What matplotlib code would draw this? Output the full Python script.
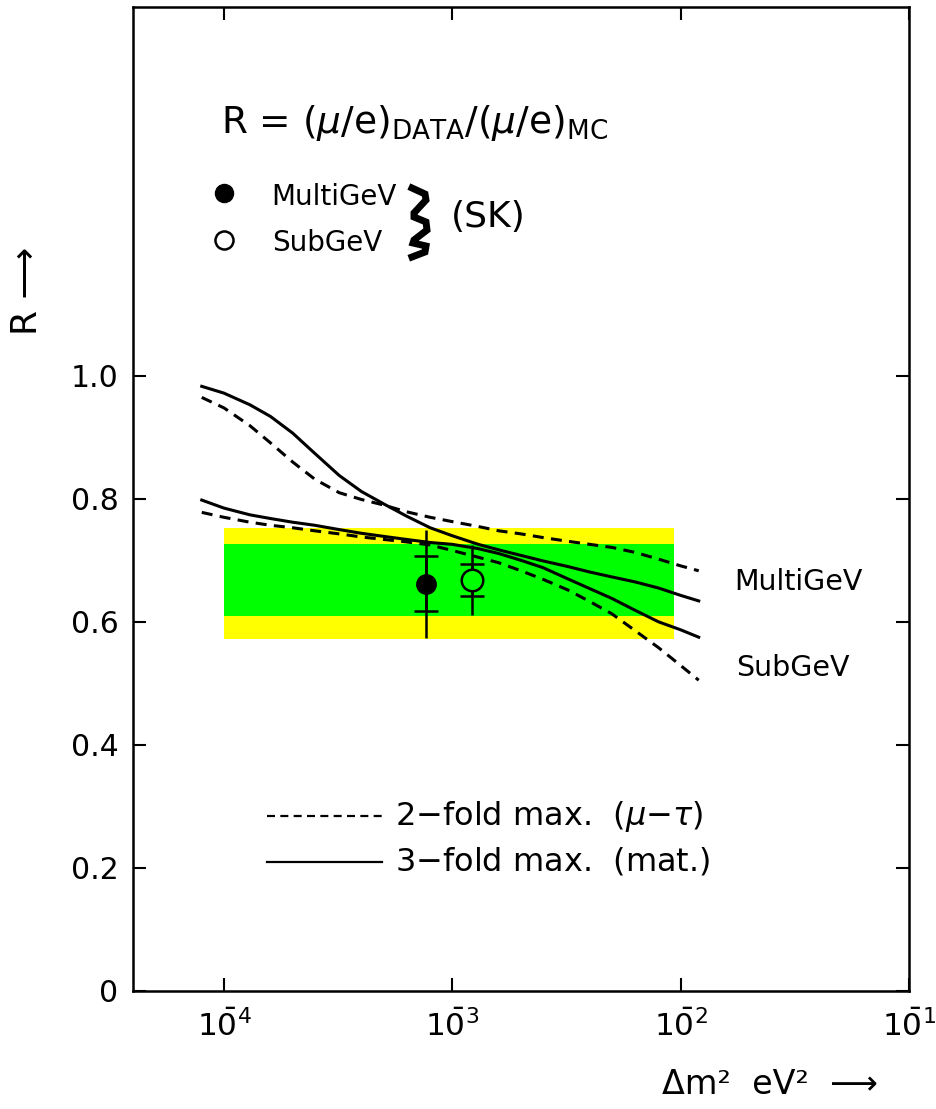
import numpy as np
import matplotlib
matplotlib.use("Agg")
import matplotlib.pyplot as plt
from matplotlib.ticker import NullLocator

plt.rcParams['font.family'] = ['DejaVu Sans']
plt.rcParams['mathtext.fontset'] = 'dejavusans'

# delta m^2 grid (eV^2) the curves were read at
dm2 = [8e-5, 1e-4, 1.3e-4, 1.6e-4, 2e-4, 2.5e-4, 3.2e-4, 4e-4, 5e-4, 6.3e-4,
       8e-4, 1e-3, 1.3e-3, 1.6e-3, 2e-3, 2.5e-3, 3.2e-3, 4e-3, 5e-3, 6.3e-3,
       8e-3, 1e-2, 1.2e-2]
# 3-fold maximal mixing (matter), solid
multi_3fold = [0.983, 0.972, 0.953, 0.934, 0.907, 0.874, 0.838, 0.812, 0.792, 0.772,
               0.753, 0.740, 0.726, 0.717, 0.708, 0.699, 0.690, 0.681, 0.673, 0.665,
               0.655, 0.643, 0.634]
sub_3fold = [0.798, 0.785, 0.774, 0.768, 0.762, 0.757, 0.750, 0.744, 0.739, 0.734,
             0.729, 0.726, 0.719, 0.711, 0.700, 0.688, 0.670, 0.654, 0.638, 0.619,
             0.600, 0.587, 0.575]
# 2-fold maximal mixing (mu-tau), dashed
multi_2fold = [0.965, 0.948, 0.919, 0.891, 0.860, 0.832, 0.810, 0.799, 0.790, 0.779,
               0.770, 0.763, 0.755, 0.748, 0.743, 0.737, 0.731, 0.726, 0.721, 0.713,
               0.702, 0.691, 0.683]
sub_2fold = [0.778, 0.770, 0.762, 0.757, 0.753, 0.748, 0.743, 0.738, 0.734, 0.730,
             0.725, 0.716, 0.705, 0.696, 0.683, 0.669, 0.652, 0.633, 0.613, 0.586,
             0.558, 0.529, 0.505]

# SK points: position, R, stat error, total error
sk_dm2 = [7.7e-4, 1.22e-3]
sk_R = [0.662, 0.668]
sk_stat = [0.045, 0.026]
sk_tot = [0.088, 0.057]

# allowed bands
band_dm2 = [1e-4, 9.4e-3]
yellow_band = [0.572, 0.752]
green_band = [0.610, 0.726]

xticks = [1e-4, 1e-3, 1e-2, 1e-1]
xticklabels = [r'$\mathregular{1\bar{0}^{4}}$', r'$\mathregular{1\bar{0}^{3}}$',
               r'$\mathregular{1\bar{0}^{2}}$', r'$\mathregular{1\bar{0}^{1}}$']
yticks = [0, 0.2, 0.4, 0.6, 0.8, 1.0]
yticklabels = ['0', '0.2', '0.4', '0.6', '0.8', '1.0']

W, H = 936, 1109
fig = plt.figure(figsize=(W / 100, H / 100), dpi=100)
ax = fig.add_axes([133 / W, 118.3 / H, 776 / W, 983.7 / H])
ax.set_xscale('log')
ax.set_xlim(4e-5, 1e-1)
ax.set_ylim(0, 1.6)

ax.fill_between(band_dm2, yellow_band[0], yellow_band[1], color='#ffff00', lw=0, zorder=1)
ax.fill_between(band_dm2, green_band[0], green_band[1], color='#00ff00', lw=0, zorder=1)

lw = 2.2
dash = (3.6, 2.4)
ax.plot(dm2, multi_3fold, 'k-', lw=lw, zorder=3)
ax.plot(dm2, sub_3fold, 'k-', lw=lw, zorder=3)
ax.plot(dm2, multi_2fold, 'k--', lw=lw, dashes=dash, zorder=3)
ax.plot(dm2, sub_2fold, 'k--', lw=lw, dashes=dash, zorder=3)

# total errors without caps, stat errors with caps
ax.errorbar(sk_dm2, sk_R, yerr=sk_tot, fmt='none', ecolor='k', elinewidth=1.8, zorder=4)
ax.errorbar(sk_dm2, sk_R, yerr=sk_stat, fmt='none', ecolor='k', elinewidth=1.8,
            capsize=8.3, capthick=1.8, zorder=4)
ax.plot(sk_dm2[0], sk_R[0], 'o', color='k', ms=14, zorder=5)
ax.plot(sk_dm2[1], sk_R[1], 'o', mfc='#00ff00', mec='k', mew=1.8, ms=15.5, zorder=5)

ax.set_xticks(xticks)
ax.set_xticklabels(xticklabels)
ax.xaxis.set_minor_locator(NullLocator())
ax.set_yticks(yticks)
ax.set_yticklabels(yticklabels)
ax.tick_params(direction='in', length=9.4, width=1.5, top=True, right=True,
               labelsize=21.5)
ax.tick_params(axis='y', pad=10.5)
ax.tick_params(axis='x', pad=14, labelsize=22.5)
for s in ax.spines.values():
    s.set_linewidth(1.8)

# header and legend of the points
ax.text(9.7e-5, 1.411, r'R = ($\mu$/e)$_{\mathregular{DATA}}$/($\mu$/e)$_{\mathregular{MC}}$',
        fontsize=27, ha='left', va='center')
ax.plot(1e-4, 1.297, 'o', color='k', ms=13, clip_on=False)
ax.plot(1e-4, 1.221, 'o', mfc='white', mec='k', mew=1.8, ms=13, clip_on=False)
ax.text(1.62e-4, 1.291, 'MultiGeV', fontsize=20, ha='left', va='center')
ax.text(1.62e-4, 1.216, 'SubGeV', fontsize=20, ha='left', va='center')
ax.text(9.9e-4, 1.258, '(SK)', fontsize=26, ha='left', va='center')

# wavy brace grouping the two SK samples
brace_px = [(412, 188), (425, 194), (426, 200), (414, 213), (414, 217), (426, 222),
            (427, 230), (414, 240), (413, 243), (426, 246), (425, 252), (412, 257)]
bx = [p[0] / W for p in brace_px]
by = [1 - p[1] / H for p in brace_px]
fig.add_artist(plt.Line2D(bx, by, color='k', lw=5, solid_joinstyle='miter'))

# curve labels
ax.text(1.71e-2, 0.664, 'MultiGeV', fontsize=20.5, ha='left', va='center')
ax.text(1.75e-2, 0.525, 'SubGeV', fontsize=20.5, ha='left', va='center')

# line style legend
ax.plot([1.54e-4, 4.9e-4], [0.284, 0.284], 'k--', lw=1.6, dashes=(3.6, 2.4))
ax.plot([1.54e-4, 4.9e-4], [0.210, 0.210], 'k-', lw=1.6)
ax.text(5.6e-4, 0.284, r'2$-$fold max.  ($\mu$$-$$\tau$)', fontsize=23,
        ha='left', va='center')
ax.text(5.6e-4, 0.210, r'3$-$fold max.  (mat.)', fontsize=23,
        ha='left', va='center')

fig.text(770 / W, 1 - 1085 / H, 'Δm²  eV²  ⟶', fontsize=24, ha='center', va='center')
fig.text(27 / W, 1 - 291 / H, 'R ⟶', fontsize=26, ha='center', va='center', rotation=90)

fig.savefig('out.png', dpi=100)
